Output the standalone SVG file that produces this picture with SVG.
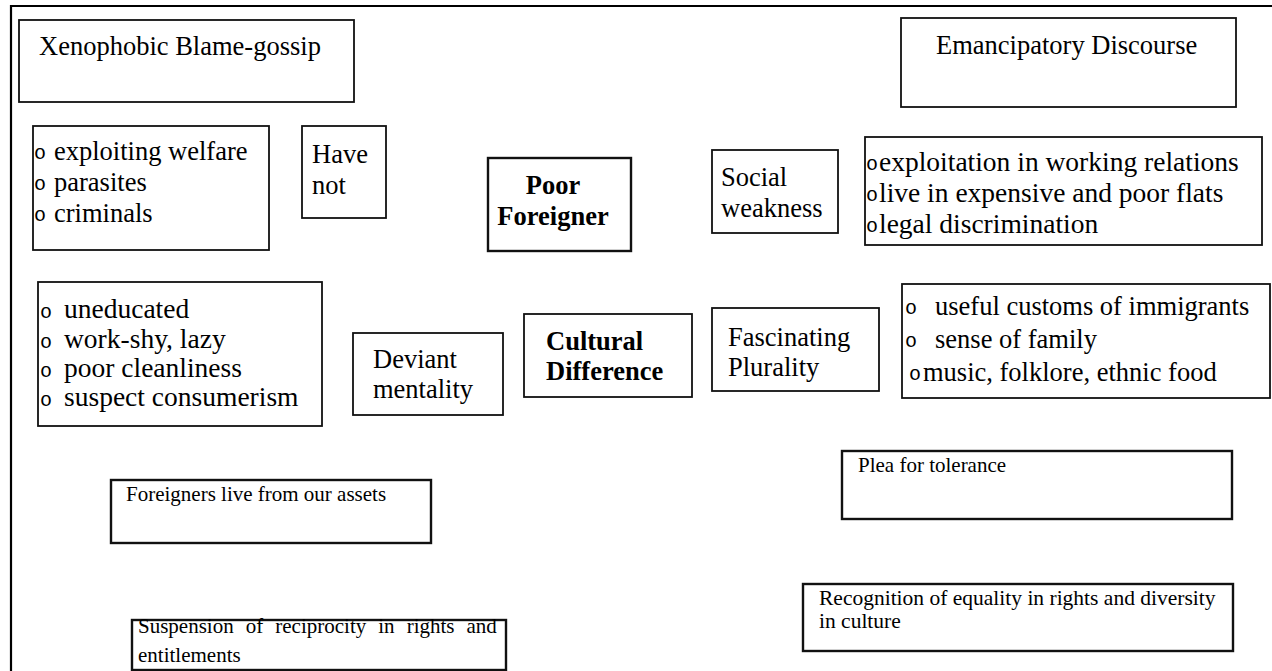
<svg xmlns="http://www.w3.org/2000/svg" width="1272" height="671" viewBox="0 0 1272 671">
<style>
  .box { fill: #fff; stroke: #111; stroke-width: 1.8; }
  .thick { stroke-width: 2.4; }
  .frame { stroke: #000; stroke-width: 2.2; fill: none; }
  .t { font-family: "Liberation Serif", "Times New Roman", serif; font-size: 26.5px; fill: #000; }
  .tl { font-family: "Liberation Serif", "Times New Roman", serif; font-size: 27.5px; fill: #000; }
  .b { font-family: "Liberation Serif", "Times New Roman", serif; font-size: 26.5px; font-weight: bold; fill: #000; }
  .s { font-family: "Liberation Serif", "Times New Roman", serif; font-size: 21px; fill: #000; }
  .bul { font-family: "Liberation Mono", "Courier New", monospace; font-size: 20px; fill: #000; }
</style>
<rect x="0" y="0" width="1272" height="671" fill="#fff"/>
<g id="frame">
  <line class="frame" x1="10" y1="6" x2="1272" y2="6"/>
  <line class="frame" x1="11" y1="5" x2="11" y2="671"/>
</g>
<g id="connectors"></g>
<g id="xenophobic">
  <rect class="box" x="19" y="20" width="335" height="82"/>
  <text class="t" x="39" y="55">Xenophobic Blame-gossip</text>
</g>
<g id="list-welfare">
  <rect class="box" x="33" y="126" width="236" height="124"/>
  <text class="bul" x="34" y="159">o</text>
  <text class="bul" x="34" y="190">o</text>
  <text class="bul" x="34" y="221">o</text>
  <text class="t" x="54" y="160">exploiting welfare</text>
  <text class="t" x="54" y="191">parasites</text>
  <text class="t" x="54" y="222">criminals</text>
</g>
<g id="have-not">
  <rect class="box" x="302" y="126" width="84" height="92"/>
  <text class="t" x="312" y="163">Have</text>
  <text class="t" x="312" y="194">not</text>
</g>
<g id="poor-foreigner">
  <rect class="box thick" x="488" y="158" width="143" height="93"/>
  <text class="b" x="553" y="194" text-anchor="middle">Poor</text>
  <text class="b" x="553" y="225" text-anchor="middle">Foreigner</text>
</g>
<g id="social-weakness">
  <rect class="box" x="712" y="150" width="126" height="83"/>
  <text class="t" x="721" y="186">Social</text>
  <text class="t" x="721" y="217">weakness</text>
</g>
<g id="emancipatory">
  <rect class="box" x="901" y="18" width="335" height="89"/>
  <text class="t" x="936" y="54">Emancipatory Discourse</text>
</g>
<g id="list-exploitation">
  <rect class="box" x="865" y="137" width="397" height="108"/>
  <text class="bul" x="866" y="170">o</text>
  <text class="bul" x="866" y="201">o</text>
  <text class="bul" x="866" y="232">o</text>
  <text class="tl" x="879" y="171">exploitation in working relations</text>
  <text class="tl" x="879" y="202">live in expensive and poor flats</text>
  <text class="tl" x="879" y="233">legal discrimination</text>
</g>
<g id="list-uneducated">
  <rect class="box" x="38" y="282" width="284" height="144"/>
  <text class="bul" x="40" y="318">o</text>
  <text class="bul" x="40" y="347.5">o</text>
  <text class="bul" x="40" y="377">o</text>
  <text class="bul" x="40" y="406">o</text>
  <text class="tl" x="64" y="318">uneducated</text>
  <text class="tl" x="64" y="347.5">work-shy, lazy</text>
  <text class="tl" x="64" y="377">poor cleanliness</text>
  <text class="tl" x="64" y="406">suspect consumerism</text>
</g>
<g id="deviant">
  <rect class="box" x="353" y="333" width="150" height="82"/>
  <text class="t" x="373" y="368">Deviant</text>
  <text class="t" x="373" y="398">mentality</text>
</g>
<g id="cultural-difference">
  <rect class="box" x="524" y="314" width="168" height="83"/>
  <text class="b" x="546" y="350">Cultural</text>
  <text class="b" x="546" y="380">Difference</text>
</g>
<g id="fascinating">
  <rect class="box" x="712" y="308" width="167" height="83"/>
  <text class="t" x="728" y="346">Fascinating</text>
  <text class="t" x="728" y="376">Plurality</text>
</g>
<g id="list-customs">
  <rect class="box" x="902" y="284" width="368" height="114"/>
  <text class="bul" x="905" y="314">o</text>
  <text class="bul" x="905" y="347">o</text>
  <text class="bul" x="909" y="380">o</text>
  <text class="t" x="935" y="315">useful customs of immigrants</text>
  <text class="t" x="935" y="348">sense of family</text>
  <text class="t" x="923" y="381">music, folklore, ethnic food</text>
</g>
<g id="foreigners-assets">
  <rect class="box thick" x="111" y="480" width="320" height="63"/>
  <text class="s" x="126" y="501">Foreigners live from our assets</text>
</g>
<g id="suspension">
  <rect class="box thick" x="132" y="620" width="374" height="50"/>
  <text class="s" x="138" y="633" word-spacing="6.8">Suspension of reciprocity in rights and</text>
  <text class="s" x="138" y="662">entitlements</text>
</g>
<g id="plea">
  <rect class="box thick" x="842" y="451" width="390" height="68"/>
  <text class="s" x="858" y="472">Plea for tolerance</text>
</g>
<g id="recognition">
  <rect class="box thick" x="803" y="584" width="430" height="67"/>
  <text class="s" x="819" y="605" style="font-size:21.5px">Recognition of equality in rights and diversity</text>
  <text class="s" x="819" y="628" style="font-size:21.5px">in culture</text>
</g>
</svg>
